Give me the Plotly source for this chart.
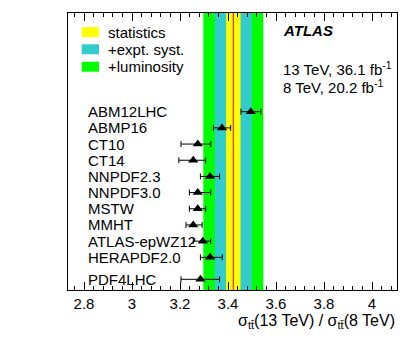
import plotly.graph_objects as go

# PDF predictions for the 13/8 TeV ttbar cross-section ratio
pdfNames = ['ABM12LHC', 'ABMP16', 'CT10', 'CT14', 'NNPDF2.3', 'NNPDF3.0',
            'MSTW', 'MMHT', 'ATLAS-epWZ12', 'HERAPDF2.0', 'PDF4LHC']
pdfRatio = [3.495, 3.375, 3.274, 3.255, 3.325, 3.274, 3.274, 3.255, 3.295, 3.325, 3.285]
pdfErrUp = [0.042, 0.036, 0.054, 0.052, 0.040, 0.054, 0.033, 0.037, 0.033, 0.051, 0.080]
pdfErrDown = [0.041, 0.036, 0.070, 0.060, 0.040, 0.035, 0.035, 0.030, 0.040, 0.040, 0.081]

# measurement: central value and cumulative uncertainties
measCentral = 3.422
bandNames = ['statistics', '+expt. syst.', '+luminosity']
bandErr = [0.030, 0.077, 0.125]
bandColors = ['#ffff00', '#33cccc', '#00ff00']

xTicks = [2.8, 3.0, 3.2, 3.4, 3.6, 3.8, 4.0]
xTickText = ['2.8', '3', '3.2', '3.4', '3.6', '3.8', '4']

font = 'Liberation Sans, Arial, Helvetica, sans-serif'

n = len(pdfNames)
ypos = list(range(n - 1)) + [n - 1 + 0.36]  # last (combined) entry a bit apart

fig = go.Figure()

# bands, widest first
shapes = []
for err, col in reversed(list(zip(bandErr, bandColors))):
    shapes.append(dict(type='rect', xref='x', yref='paper',
                       x0=measCentral - err, x1=measCentral + err, y0=0, y1=1,
                       fillcolor=col, line_width=0, layer='below'))
shapes.append(dict(type='line', xref='x', yref='paper', x0=measCentral, x1=measCentral,
                   y0=0, y1=1, line=dict(color='#ff0000', width=1), layer='below'))

fig.add_trace(go.Scatter(
    x=pdfRatio, y=ypos, mode='markers',
    marker=dict(symbol='triangle-up', size=9, color='black'),
    error_x=dict(type='data', symmetric=False, array=pdfErrUp, arrayminus=pdfErrDown,
                 color='black', thickness=1, width=3),
    showlegend=False
))

annotations = []
for name, y in zip(pdfNames, ypos):
    annotations.append(dict(x=2.808, y=y, xref='x', yref='y', text=name, showarrow=False,
                            xanchor='left', yanchor='middle', font=dict(size=15, color='black')))

# hand made legend
legY = [0.931, 0.869, 0.806]
for name, col, y in zip(bandNames, bandColors, legY):
    shapes.append(dict(type='rect', xref='paper', yref='paper', x0=0.0416, x1=0.0942,
                       y0=y - 0.018, y1=y + 0.018, fillcolor=col, line_width=0))
    annotations.append(dict(x=0.1146, y=y, xref='paper', yref='paper', text=name,
                            showarrow=False, xanchor='left', yanchor='middle',
                            font=dict(size=15, color='black')))

annotations.append(dict(x=0.647, y=0.9386, xref='paper', yref='paper',
                        text='<b><i>ATLAS</i></b>', showarrow=False, xanchor='left',
                        yanchor='middle', font=dict(size=15, color='black')))
annotations.append(dict(x=0.647, y=0.801, xref='paper', yref='paper',
                        text='13 TeV, 36.1 fb<sup>-1</sup>', showarrow=False, xanchor='left',
                        yanchor='middle', font=dict(size=15, color='black')))
annotations.append(dict(x=0.647, y=0.733, xref='paper', yref='paper',
                        text='8 TeV, 20.2 fb<sup>-1</sup>', showarrow=False, xanchor='left',
                        yanchor='middle', font=dict(size=15, color='black')))
annotations.append(dict(x=1.0, y=-0.115, xref='paper', yref='paper',
                        text='σ<sub>tt\u0304</sub>(13 TeV) / σ<sub>tt\u0304</sub>(8 TeV)',
                        showarrow=False, xanchor='right', yanchor='middle',
                        font=dict(size=16, color='black')))

# the page body has an 8px margin, so the figure is made 8px smaller
fig.update_layout(
    width=406, height=341,
    margin=dict(l=60, r=17, t=5, b=59),
    paper_bgcolor='white', plot_bgcolor='white',
    font=dict(family=font, size=15, color='black'),
    shapes=shapes, annotations=annotations,
    showlegend=False,
)
fig.update_xaxes(
    range=[2.7333, 4.104], tickvals=xTicks, ticktext=xTickText,
    ticks='inside', ticklen=8, tickcolor='black', tickwidth=1,
    minor=dict(dtick=0.04, ticks='inside', ticklen=4, tickcolor='black', showgrid=False),
    showline=True, linecolor='black', linewidth=1, mirror='allticks',
    showgrid=False, zeroline=False, tickfont=dict(size=15),
)
fig.update_yaxes(
    range=[11.02, -6.10], showticklabels=False, ticks='',
    showline=True, linecolor='black', linewidth=1, mirror=True,
    showgrid=False, zeroline=False,
)

fig.write_html('out.html')
